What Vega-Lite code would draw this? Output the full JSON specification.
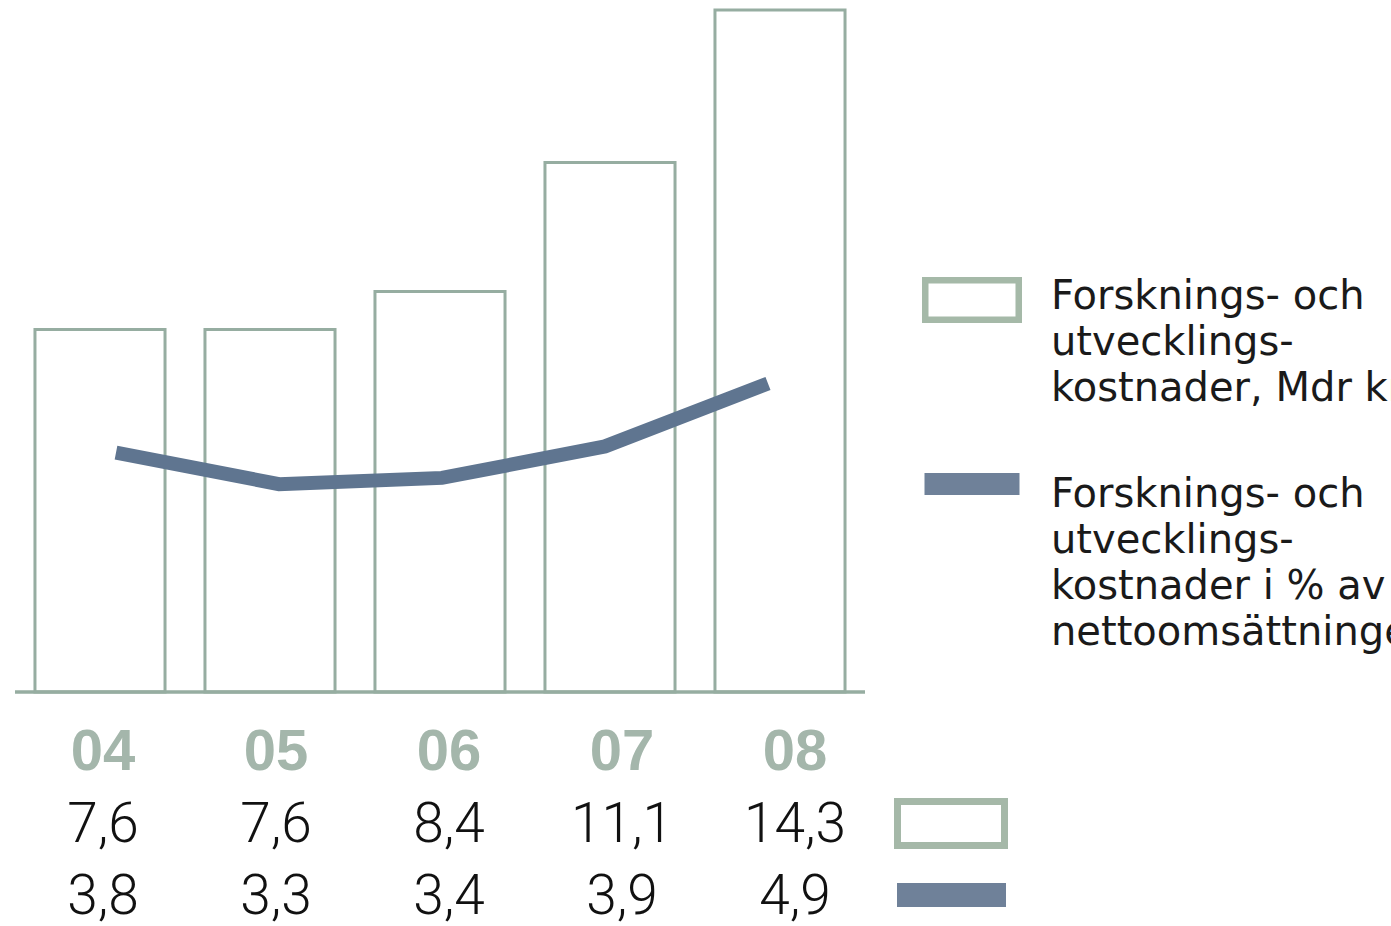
{
  "$schema": "https://vega.github.io/schema/vega-lite/v6.json",
  "padding": {"left": 13, "top": 8, "right": 0, "bottom": 0},
  "background": "white",
  "config": {
    "view": {"stroke": null},
    "locale": {"number": {"decimal": ",", "thousands": "\u00a0", "grouping": [3], "currency": ["", " kr"]}}
  },
  "datasets": {
    "years": [
      {"year": "04", "fou": 7.6, "pct": 3.8},
      {"year": "05", "fou": 7.6, "pct": 3.3},
      {"year": "06", "fou": 8.4, "pct": 3.4},
      {"year": "07", "fou": 11.1, "pct": 3.9},
      {"year": "08", "fou": 14.3, "pct": 4.9}
    ],
    "legend": [
      {"item": "bar", "label": ["Forsknings- och", "utvecklings-", "kostnader, Mdr kr"]},
      {"item": "pct", "label": ["Forsknings- och", "utvecklings-", "kostnader i % av", "nettoomsättningen"]}
    ]
  },
  "spacing": 0,
  "vconcat": [
    {
      "spacing": 35,
      "hconcat": [
        {
          "width": 850,
          "height": 682,
          "data": {"name": "years"},
          "layer": [
            {
              "mark": {"type": "bar", "fill": "white", "stroke": "#96ada1", "strokeWidth": 3, "strokeJoin": "miter"},
              "encoding": {
                "x": {"field": "year", "type": "nominal", "scale": {"paddingInner": 0.235, "paddingOuter": 0.1175}, "axis": null},
                "y": {"field": "fou", "type": "quantitative", "scale": {"domain": [0, 14.3]}, "axis": null}
              }
            },
            {
              "data": {"values": [{"base": 0}]},
              "mark": {"type": "rule", "stroke": "#96ada1", "strokeWidth": 3.5},
              "encoding": {
                "y": {"field": "base", "type": "quantitative", "scale": {"domain": [0, 1]}, "axis": null}
              }
            },
            {
              "mark": {"type": "line", "stroke": "#5f7590", "strokeWidth": 14, "strokeCap": "butt", "strokeJoin": "miter"},
              "encoding": {
                "x": {"field": "year", "type": "nominal", "scale": {"type": "point", "range": [101, 753], "padding": 0}, "axis": null},
                "y": {"field": "pct", "type": "quantitative", "scale": {"domain": [0, 10.83]}, "axis": null}
              }
            }
          ],
          "resolve": {"scale": {"x": "independent", "y": "independent"}}
        },
        {
          "width": 200,
          "height": 682,
          "data": {"name": "legend"},
          "layer": [
            {
              "transform": [{"filter": "datum.item === 'bar'"}],
              "mark": {"type": "point", "shape": "M-1,-0.4225L1,-0.4225L1,0.4225L-1,0.4225Z", "size": 8742, "filled": false, "stroke": "#a5b9a8", "strokeWidth": 6.5, "opacity": 1},
              "encoding": {
                "x": {"datum": "sym", "type": "nominal", "scale": {"domain": ["sym", "txt"], "range": [70, 149], "padding": 0}, "axis": null},
                "y": {"field": "item", "type": "nominal", "scale": {"domain": ["bar", "pct"], "range": [290, 474], "padding": 0}, "axis": null}
              }
            },
            {
              "transform": [{"filter": "datum.item === 'pct'"}],
              "mark": {"type": "point", "shape": "M-1,-0.2316L1,-0.2316L1,0.2316L-1,0.2316Z", "size": 9025, "filled": true, "fill": "#6f8199", "strokeWidth": 0, "opacity": 1},
              "encoding": {
                "x": {"datum": "sym", "type": "nominal", "axis": null},
                "y": {"field": "item", "type": "nominal", "scale": {"domain": ["bar", "pct"], "range": [290, 474], "padding": 0}, "axis": null}
              }
            },
            {
              "mark": {"type": "text", "align": "left", "baseline": "alphabetic", "font": "DejaVu Sans", "fontSize": 40, "lineHeight": 46, "color": "#1a1a1a"},
              "encoding": {
                "x": {"datum": "txt", "type": "nominal", "axis": null},
                "y": {"field": "item", "type": "nominal", "scale": {"domain": ["bar", "pct"], "range": [299, 497], "padding": 0}, "axis": null},
                "text": {"field": "label"}
              }
            }
          ],
          "resolve": {"scale": {"y": "independent"}}
        }
      ]
    },
    {
      "width": 1000,
      "height": 230,
      "data": {"name": "years"},
      "layer": [
        {
          "mark": {"type": "text", "font": "Liberation Sans", "fontWeight": "bold", "fontSize": 58, "color": "#a4b6ab", "baseline": "alphabetic", "align": "center"},
          "encoding": {
            "x": {"field": "year", "type": "nominal", "scale": {"domain": ["04", "05", "06", "07", "08"], "range": [88, 780], "padding": 0}, "axis": null},
            "y": {"datum": "yr", "type": "nominal", "scale": {"domain": ["yr", "bar", "pct"], "range": [76, 220], "padding": 0}, "axis": null},
            "text": {"field": "year"}
          }
        },
        {
          "mark": {"type": "text", "font": "Roboto", "fontWeight": 300, "fontSize": 55, "color": "#111111", "baseline": "alphabetic", "align": "center"},
          "encoding": {
            "x": {"field": "year", "type": "nominal", "scale": {"domain": ["04", "05", "06", "07", "08"], "range": [88, 780], "padding": 0}, "axis": null},
            "y": {"datum": "bar", "type": "nominal", "scale": {"domain": ["yr", "bar", "pct"], "range": [76, 220], "padding": 0}, "axis": null},
            "text": {"field": "fou", "type": "quantitative", "format": ".1f"}
          }
        },
        {
          "mark": {"type": "text", "font": "Roboto", "fontWeight": 300, "fontSize": 55, "color": "#111111", "baseline": "alphabetic", "align": "center"},
          "encoding": {
            "x": {"field": "year", "type": "nominal", "scale": {"domain": ["04", "05", "06", "07", "08"], "range": [88, 780], "padding": 0}, "axis": null},
            "y": {"datum": "pct", "type": "nominal", "scale": {"domain": ["yr", "bar", "pct"], "range": [76, 220], "padding": 0}, "axis": null},
            "text": {"field": "pct", "type": "quantitative", "format": ".1f"}
          }
        },
        {
          "data": {"name": "legend"},
          "transform": [{"filter": "datum.item === 'bar'"}],
          "mark": {"type": "point", "shape": "M-1,-0.411L1,-0.411L1,0.411L-1,0.411Z", "size": 11449, "filled": false, "stroke": "#a5b8a8", "strokeWidth": 7, "opacity": 1},
          "encoding": {
            "x": {"datum": "sym", "type": "nominal", "scale": {"domain": ["sym"], "range": [936, 936], "padding": 0}, "axis": null},
            "y": {"field": "item", "type": "nominal", "scale": {"domain": ["bar", "pct"], "range": [129.5, 201], "padding": 0}, "axis": null}
          }
        },
        {
          "data": {"name": "legend"},
          "transform": [{"filter": "datum.item === 'pct'"}],
          "mark": {"type": "point", "shape": "M-1,-0.22L1,-0.22L1,0.22L-1,0.22Z", "size": 11881, "filled": true, "fill": "#6f8199", "strokeWidth": 0, "opacity": 1},
          "encoding": {
            "x": {"datum": "sym", "type": "nominal", "scale": {"domain": ["sym"], "range": [936.5, 936.5], "padding": 0}, "axis": null},
            "y": {"field": "item", "type": "nominal", "scale": {"domain": ["bar", "pct"], "range": [129.5, 201], "padding": 0}, "axis": null}
          }
        }
      ],
      "resolve": {"scale": {"x": "independent", "y": "independent"}}
    }
  ]
}
